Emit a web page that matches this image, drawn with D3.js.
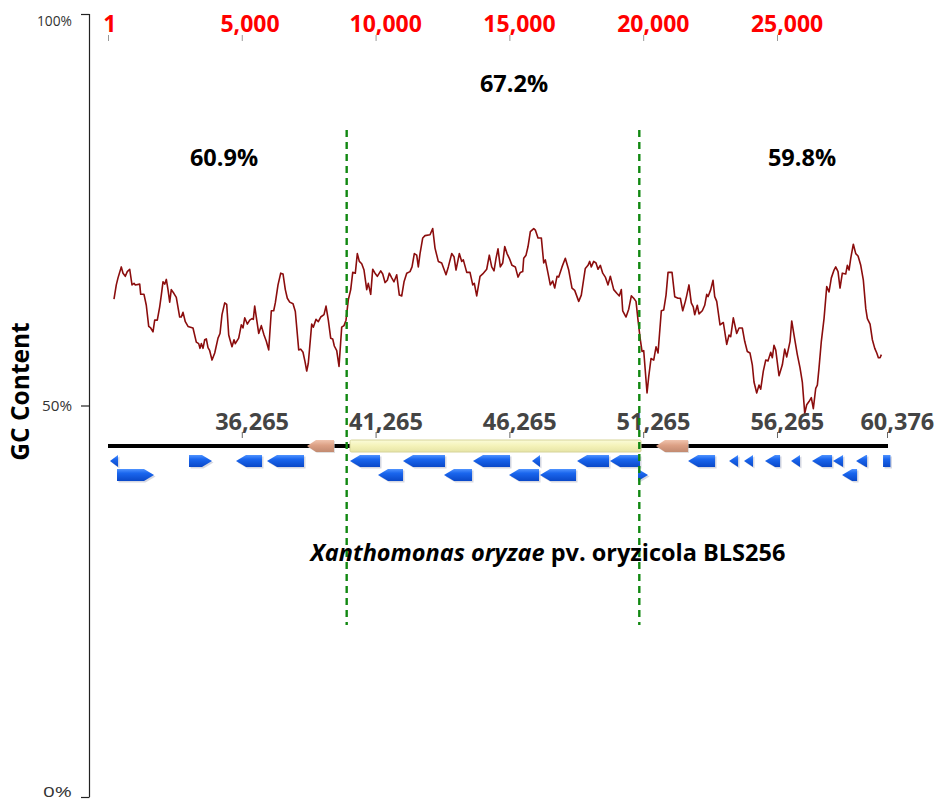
<!DOCTYPE html>
<html>
<head>
<meta charset="utf-8">
<script src="https://cdn.jsdelivr.net/npm/d3@7"></script>
<style>
  html, body { margin: 0; padding: 0; background: #fff; }
  svg { display: block; }
  text { font-family: "Open Sans", "Noto Sans", sans-serif; }
</style>
</head>
<body>
<svg id="chart" width="942" height="804"></svg>
<script>
// Sliding-window GC content along the island region (local coordinate, GC %)
const gcPos = [225,311,375,498,562,648,722,812,898,973,1021,1186,1223,1346,1432,1522,1597,1683,1746,1843,1933,1993,2056,2120,2180,2243,2307,2366,2467,2553,2680,2740,2804,2890,2991,3177,3301,3390,3439,3488,3551,3615,3675,3738,3802,3888,3989,4112,4187,4261,4362,4437,4512,4560,4635,4710,4758,4885,4982,5046,5110,5207,5297,5382,5431,5483,5543,5633,5730,5831,5917,6006,6104,6193,6253,6354,6455,6541,6627,6702,6791,6915,7001,7128,7203,7288,7363,7427,7486,7613,7673,7774,7860,7950,8073,8148,8234,8323,8398,8458,8548,8634,8734,8820,8895,8981,9071,9146,9243,9318,9392,9482,9568,9669,9728,9818,9893,9979,10065,10192,10267,10353,10439,10513,10603,10689,10790,10887,10977,11063,11164,11287,11362,11448,11537,11597,11661,11762,11847,12034,12135,12221,12344,12471,12632,12718,12845,12931,13006,13129,13219,13279,13406,13529,13630,13690,13779,13903,14004,14153,14250,14340,14426,14501,14575,14661,14751,14826,14912,14998,15098,15222,15323,15409,15498,15536,15622,15697,15783,15910,15970,16070,16194,16283,16343,16443,16529,16619,16694,16780,16843,16967,17090,17217,17340,17441,17591,17688,17837,17938,18001,18061,18151,18237,18312,18398,18488,18585,18686,18772,18899,19022,19108,19183,19235,19359,19459,19557,19646,19732,19807,19893,19957,20020,20144,20207,20293,20394,20480,20555,20678,20768,20854,20929,21078,21179,21303,21389,21478,21576,21624,21711,21797,21872,21925,22022,22086,22209,22299,22374,22423,22524,22610,22673,22748,22871,22995,23122,23208,23271,23368,23495,23581,23704,23794,23891,23992,24078,24141,24242,24328,24392,24489,24579,24665,24766,24826,24889,24953,25076,25200,25289,25364,25488,25551,25637,25760,25861,25947,26037,26111,26197,26283,26358,26448,26508,26571,26657,26758,26859,26945,27031,27132,27195,27281,27356,27442,27569,27629,27693,27756,27853,27943,28029,28130,28227,28317,28377,28478,28564,28654,28729,28789,28852,28900];
const gcVal = [63.6,65.4,66.3,67.7,66.9,66.5,67.1,67.4,65.4,65.6,65.4,65.5,64.2,64.2,62.8,60.1,59.9,59.4,60.9,60.9,62.6,64.1,65.8,65.5,66.1,64.8,63.2,64.8,64.3,63.8,61.3,61.3,61.9,60.7,60.1,59.9,58.1,57.9,57.3,57.9,57.3,58.4,58.5,57.4,57.0,55.8,56.7,58.6,59.2,61.6,63.1,62.9,59.0,58.4,57.5,58.4,57.9,58.6,60.3,59.9,61.2,60.4,60.9,61.1,61.0,62.7,61.3,59.2,60.2,59.0,58.2,57.1,62.1,62.1,63.1,65.4,66.9,66.8,64.8,63.7,63.2,63.0,62.0,57.1,57.2,56.8,55.6,54.4,55.4,60.4,60.0,61.0,60.7,61.3,61.6,62.7,60.9,58.6,58.5,57.6,57.0,55.0,60.0,60.2,60.9,63.5,64.8,67.0,66.9,69.4,68.4,68.1,67.3,64.8,65.6,64.2,67.4,66.9,66.5,67.2,66.8,65.7,66.0,66.9,66.3,65.8,66.7,64.1,64.0,65.8,66.9,67.1,67.7,69.4,69.2,67.7,69.4,71.4,71.7,71.8,72.6,70.1,68.4,68.2,66.7,67.7,69.4,69.0,67.3,69.4,68.4,68.6,67.0,67.0,65.4,65.6,64.0,66.5,66.8,67.4,69.2,67.7,67.2,68.8,70.0,67.7,68.2,70.3,69.4,68.8,67.9,67.7,66.4,67.0,67.1,68.8,69.2,70.3,72.2,72.6,72.4,71.4,71.4,68.2,68.6,66.9,65.4,65.9,65.0,66.5,66.4,67.7,68.8,67.3,65.0,64.7,63.3,64.1,67.5,67.9,68.4,67.7,68.4,68.2,67.4,67.9,66.9,66.4,65.4,66.5,64.8,64.3,64.0,64.8,62.1,61.3,62.3,64.0,63.7,63.3,60.9,58.4,56.9,57.0,51.6,53.7,56.0,55.8,57.5,56.7,62.1,62.2,64.1,67.0,67.0,63.9,63.7,63.7,62.1,63.3,64.0,65.4,63.1,62.6,61.6,62.8,61.7,62.1,62.8,64.2,63.9,64.8,66.0,63.9,63.3,60.3,60.6,57.8,59.0,58.8,61.2,59.2,59.9,59.9,58.2,56.9,56.7,55.2,53.0,51.6,52.6,52.1,54.4,55.8,55.7,56.8,56.1,57.7,57.1,53.8,55.2,57.2,56.2,58.2,60.8,59.0,56.5,54.8,53.0,49.0,50.1,50.5,51.0,49.6,52.2,52.6,54.8,58.2,61.1,65.2,64.5,66.3,67.3,67.7,67.1,65.0,66.9,66.8,67.9,67.3,68.8,70.6,69.4,69.1,67.9,66.0,62.4,61.1,60.4,58.4,57.3,56.7,56.1,56.1,56.5];

// Region boundaries (local coordinate) and the mean GC of each region
const regionBounds = [8920, 19855];
const regionLabels = ["60.9%", "67.2%", "59.8%"];

// Coordinates
const regionLength = 29111;
const genomeOffset = 31265;
const topTicks = [1, 5000, 10000, 15000, 20000, 25000];
const genomeTicks = [5000, 10000, 15000, 20000, 25000, 29111];
const gcTicks = [0, 50, 100];

// Genes: start, end, strand (0 = no direction), lane
const geneStart  = [76, 3028, 4784, 5943, 9045, 11025, 13641, 15846, 17528, 18761, 21676, 23208, 23768, 24553, 25525, 26309, 27094, 27954, 28963, 337, 10091, 12557, 14986, 16145, 19807, 27431];
const geneEnd    = [375, 3887, 5756, 7326, 10166, 12595, 15024, 16145, 18723, 19882, 22685, 23545, 24104, 25114, 25861, 27057, 27468, 28365, 29240, 1720, 11025, 13604, 16107, 17490, 20181, 27992];
const geneStrand = [-1, 1, -1, -1, -1, -1, -1, -1, -1, -1, -1, -1, -1, -1, -1, -1, -1, -1, 0, 1, -1, -1, -1, -1, 1, -1];
const geneLane   = [0, 0, 0, 0, 0, 0, 0, 0, 0, 0, 0, 0, 0, 0, 0, 0, 0, 0, 0, 1, 1, 1, 1, 1, 1, 1];

// Mobile elements drawn on the backbone
const mobileStart = [7438, 20480];
const mobileEnd   = [8446, 21676];
const islandRange = [9045, 19919];

const svg = d3.select("#chart");
const defs = svg.append("defs");

function vGrad(id, stops) {
  const g = defs.append("linearGradient").attr("id", id)
    .attr("x1", 0).attr("y1", 0).attr("x2", 0).attr("y2", 1);
  stops.forEach(([o, c]) => g.append("stop").attr("offset", o).attr("stop-color", c));
}
vGrad("geneGrad", [["0", "#4f93ff"], ["0.35", "#1a66ee"], ["1", "#0a48c8"]]);
vGrad("mobileGrad", [["0", "#f0c4ae"], ["0.45", "#dca085"], ["1", "#c28a70"]]);
vGrad("islandGrad", [["0", "#fbfbd8"], ["0.5", "#f4f2b8"], ["1", "#e6e4a6"]]);

const x = d3.scaleLinear().domain([1, regionLength]).range([108, 887]);
const y = d3.scaleLinear().domain([0, 100]).range([797, 14]);
const fmt = d3.format(",");

// ---- Left GC axis ----
const yAxis = svg.append("g");
yAxis.append("line").attr("x1", 89.5).attr("x2", 89.5).attr("y1", y(100)).attr("y2", y(0))
  .attr("stroke", "#222").attr("stroke-width", 1.2);
yAxis.selectAll("line.tk").data(gcTicks).join("line").attr("class", "tk")
  .attr("x1", 81).attr("x2", 89.5).attr("y1", d => y(d) + 0.5).attr("y2", d => y(d) + 0.5)
  .attr("stroke", "#222").attr("stroke-width", 1.2);
const gcLabelWidth = {0: 29, 50: 30, 100: 35};
yAxis.selectAll("text").data(gcTicks).join("text")
  .attr("x", 72).attr("text-anchor", "end")
  .attr("y", d => d === 100 ? y(d) + 12 : d === 0 ? y(d) - 0.5 : y(d) + 5.5)
  .attr("font-family", "DejaVu Sans").attr("font-size", 15).attr("fill", "#333")
  .attr("textLength", d => gcLabelWidth[d]).attr("lengthAdjust", "spacingAndGlyphs")
  .text(d => d + "%");

svg.append("text")
  .attr("transform", `translate(29,${y(50) - 14}) rotate(-90)`)
  .attr("text-anchor", "middle").attr("font-weight", "bold").attr("font-size", 24.5)
  .attr("fill", "#000").text("GC Content");

// ---- Top coordinate axis (red) ----
const topAxis = svg.append("g");
topAxis.selectAll("line").data(topTicks).join("line")
  .attr("x1", d => x(d) + 0.5).attr("x2", d => x(d) + 0.5).attr("y1", 35).attr("y2", 41)
  .attr("stroke", "#999").attr("stroke-width", 1);
topAxis.selectAll("text").data(topTicks).join("text")
  .attr("y", 32).attr("font-weight", "bold").attr("font-size", 23).attr("fill", "#ff0000")
  .text(d => fmt(d))
  .attr("x", function(d) { return x(d) - 0.36 * this.getComputedTextLength(); });

// ---- GC line ----
const gcData = gcPos.map((p, i) => [p, gcVal[i]]);
svg.append("path").datum(gcData)
  .attr("fill", "none").attr("stroke", "#8b0d0d").attr("stroke-width", 1.6)
  .attr("stroke-linejoin", "round")
  .attr("d", d3.line().x(d => x(d[0])).y(d => y(d[1])));

// ---- Region GC labels ----
const regionLabelPos = [4336, 15173, 25936];
const regionLabelY = [166, 92, 166];
svg.selectAll("text.region").data(regionLabels).join("text").attr("class", "region")
  .attr("x", (d, i) => x(regionLabelPos[i]))
  .attr("y", (d, i) => regionLabelY[i])
  .attr("text-anchor", "middle").attr("font-weight", "bold").attr("font-size", 23.5).attr("fill", "#000")
  .text(d => d);

// ---- Genome backbone ----
const backY = 446;
svg.append("line").attr("x1", x(1)).attr("x2", x(regionLength) + 1).attr("y1", backY).attr("y2", backY)
  .attr("stroke", "#000").attr("stroke-width", 4);

// Genome coordinate ticks and labels
const gAxis = svg.append("g");
gAxis.selectAll("line").data(genomeTicks).join("line")
  .attr("x1", d => x(d) + 0.5).attr("x2", d => x(d) + 0.5).attr("y1", 432).attr("y2", 438)
  .attr("stroke", "#666").attr("stroke-width", 1);
gAxis.selectAll("text").data(genomeTicks).join("text")
  .attr("y", 430).attr("font-weight", "bold").attr("font-size", 23.5).attr("fill", "#444")
  .text(d => fmt(d + genomeOffset))
  .attr("x", function(d) { return x(d) - 0.36 * this.getComputedTextLength(); });

// Genomic island block
svg.append("rect")
  .attr("x", x(islandRange[0])).attr("width", x(islandRange[1]) - x(islandRange[0]))
  .attr("y", backY - 6).attr("height", 12).attr("rx", 1.5)
  .attr("fill", "url(#islandGrad)").attr("stroke", "#d6d49a").attr("stroke-width", 1);

// Arrow path for a feature
function arrowPath(x1, x2, yTop, h, strand, head) {
  const w = x2 - x1;
  const hl = Math.min(head, w);
  const ym = yTop + h / 2, yb = yTop + h;
  if (strand === 0) {
    return `M${x1},${yTop} L${x2},${yTop} L${x2},${yb} L${x1},${yb} Z`;
  }
  if (strand < 0) {
    return `M${x1},${ym} L${x1 + hl},${yTop} L${x2},${yTop} L${x2},${yb} L${x1 + hl},${yb} Z`;
  }
  return `M${x2},${ym} L${x2 - hl},${yTop} L${x1},${yTop} L${x1},${yb} L${x2 - hl},${yb} Z`;
}

// Mobile elements on the backbone
mobileStart.forEach((s, i) => {
  const x1 = x(s), x2 = x(mobileEnd[i]);
  svg.append("path").attr("d", arrowPath(x1 + 1, x2 + 1, backY - 5, 12, -1, 9)).attr("fill", "#ccc").attr("opacity", 0.6);
  svg.append("path").attr("d", arrowPath(x1, x2, backY - 6, 12, -1, 9)).attr("fill", "url(#mobileGrad)");
});

// Genes
const laneTop = [455, 469];
const genes = geneStart.map((s, i) => ({s, e: geneEnd[i], strand: geneStrand[i], lane: geneLane[i]}));
const gg = svg.append("g");
gg.selectAll("path.shadow").data(genes).join("path").attr("class", "shadow")
  .attr("d", d => arrowPath(x(d.s) + 1.5, Math.min(x(d.e), 892) + 1.5, laneTop[d.lane] + 1.5, 12, d.strand, 10))
  .attr("fill", "#c4c8d4").attr("opacity", 0.7);
gg.selectAll("path.gene").data(genes).join("path").attr("class", "gene")
  .attr("d", d => arrowPath(x(d.s), Math.min(x(d.e), 892), laneTop[d.lane], 12, d.strand, 10))
  .attr("fill", "url(#geneGrad)");

// Region boundaries
svg.selectAll("line.bound").data(regionBounds).join("line").attr("class", "bound")
  .attr("x1", d => x(d)).attr("x2", d => x(d)).attr("y1", 130).attr("y2", 625)
  .attr("stroke", "#118811").attr("stroke-width", 2.4).attr("stroke-dasharray", "7,5");

// Organism label
const org = svg.append("text").attr("x", 548).attr("y", 561).attr("text-anchor", "middle")
  .attr("font-weight", "bold").attr("font-size", 23.5).attr("fill", "#000");
org.append("tspan").attr("font-style", "italic").text("Xanthomonas oryzae");
org.append("tspan").text(" pv. oryzicola BLS256");
</script>
</body>
</html>
